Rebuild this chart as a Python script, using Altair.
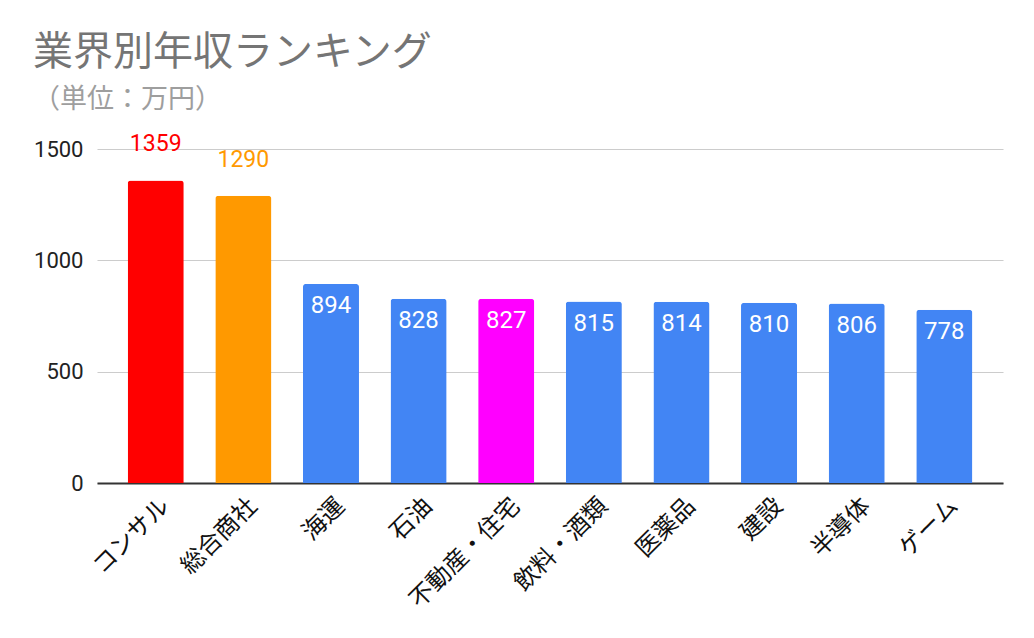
import altair as alt
import pandas as pd

categories = ["コンサル", "総合商社", "海運", "石油", "不動産・住宅",
              "飲料・酒類", "医薬品", "建設", "半導体", "ゲーム"]
values = [1359, 1290, 894, 828, 827, 815, 814, 810, 806, 778]
bar_colors = ["#FF0000", "#FF9900", "#4285F4", "#4285F4", "#FF00FF",
              "#4285F4", "#4285F4", "#4285F4", "#4285F4", "#4285F4"]
y_ticks = [0, 500, 1000, 1500]

df = pd.DataFrame({"category": categories, "value": values})

x = alt.X(
    "category:N", sort=categories,
    scale=alt.Scale(paddingInner=0.36, paddingOuter=0.35),
    axis=alt.Axis(title=None, labelAngle=-45, labelAlign="right", labelBaseline="middle",
                  labelFont="Noto Sans CJK JP", labelFontSize=24, labelColor="#111",
                  ticks=False, domainColor="#333", domainWidth=2, labelPadding=19,
                  labelOffset=10),
)
y = alt.Y(
    "value:Q", scale=alt.Scale(domain=[0, 1500], nice=False),
    axis=alt.Axis(values=y_ticks, format="d", title=None, domain=False, ticks=False,
                  labelFont="Roboto", labelFontSize=22, labelColor="#222",
                  labelPadding=14, gridColor="#cccccc", gridWidth=1.2),
)
color = alt.Color("category:N", scale=alt.Scale(domain=categories, range=bar_colors), legend=None)

base = alt.Chart(df)
bars = base.mark_bar(cornerRadiusTopLeft=3, cornerRadiusTopRight=3).encode(x=x, y=y, color=color)
outside = base.transform_filter("datum.value >= 1000").mark_text(
    dy=-29, baseline="alphabetic", font="Roboto", fontSize=23
).encode(x=x, y=y, color=color, text="value:Q")
inside = base.transform_filter("datum.value < 1000").mark_text(
    dy=29, baseline="alphabetic", font="Roboto", fontSize=24, color="white"
).encode(x=x, y=y, text="value:Q")

chart = alt.layer(bars, outside, inside).properties(
    width=906, height=334,
    autosize=alt.AutoSizeParams(type="none"),
    padding={"left": 89, "top": 141, "right": 23, "bottom": 147},
    title=alt.Title("業界別年収ランキング", subtitle="（単位：万円）", anchor="start",
                    frame="group",
                    font="Noto Sans CJK JP", fontSize=40, fontWeight="normal", color="#757575",
                    subtitleFont="Noto Sans CJK JP", subtitleFontSize=27, subtitleColor="#9e9e9e",
                    subtitlePadding=14, dx=-64, offset=20),
).configure_view(stroke=None)

chart.save("out.html", embed_options={"renderer": "svg", "actions": False})
